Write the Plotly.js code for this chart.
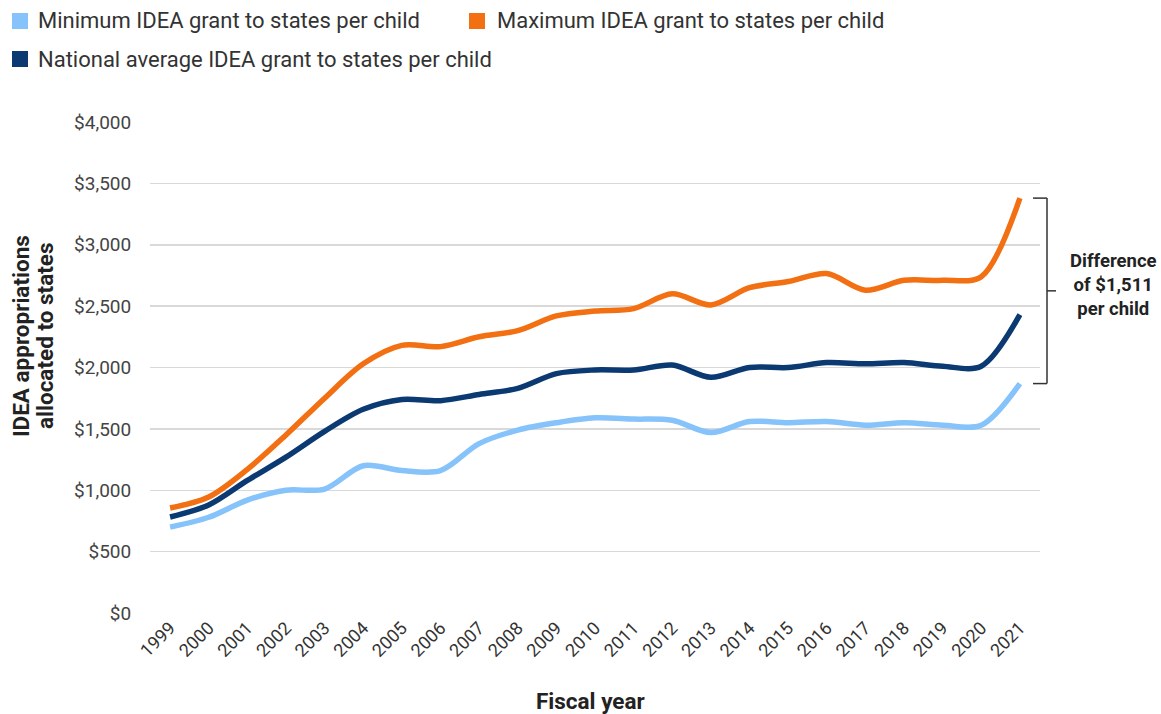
<!DOCTYPE html>
<html>
<head>
<meta charset="utf-8">
<script src="https://cdn.plot.ly/plotly-3.0.1.min.js"></script>
<style>
  html, body { margin: 0; padding: 0; background: #fff; }
  #chart { width: 1161px; height: 714px; }
</style>
</head>
<body>
<div id="chart"></div>
<script>
// IDEA grants to states per child, fiscal years 1999-2021
const years = [1999, 2000, 2001, 2002, 2003, 2004, 2005, 2006, 2007, 2008, 2009, 2010,
               2011, 2012, 2013, 2014, 2015, 2016, 2017, 2018, 2019, 2020, 2021];

const minimumGrant = [700, 780, 920, 1000, 1010, 1200, 1160, 1160, 1380, 1490, 1550, 1590,
                      1580, 1570, 1470, 1560, 1550, 1560, 1530, 1550, 1530, 1530, 1869];

const maximumGrant = [855, 945, 1170, 1450, 1750, 2030, 2180, 2170, 2250, 2300, 2420, 2460,
                      2480, 2600, 2510, 2650, 2700, 2765, 2630, 2710, 2710, 2740, 3380];

const averageGrant = [782, 880, 1080, 1270, 1480, 1660, 1740, 1730, 1780, 1830, 1950, 1980,
                      1980, 2020, 1920, 2000, 2000, 2040, 2030, 2040, 2010, 2010, 2430];

const seriesNames = [
  'Minimum IDEA grant to states per child',
  'Maximum IDEA grant to states per child',
  'National average IDEA grant to states per child'
];
const seriesColors = ['#86C3FA', '#F26F12', '#0B3A72'];

const yTicks = [0, 500, 1000, 1500, 2000, 2500, 3000, 3500, 4000];

// plot-area geometry in pixels, used to place legend and note items
const W = 1161, H = 714;
const M = { l: 150, r: 121, t: 122, b: 101 };
const plotW = W - M.l - M.r, plotH = H - M.t - M.b;
const px = x => (x - M.l) / plotW;
const py = y => (H - M.b - y) / plotH;

function lineTrace(y, i) {
  return {
    x: years, y: y, type: 'scatter', mode: 'lines', name: seriesNames[i],
    line: { color: seriesColors[i], width: 5.5, shape: 'spline', smoothing: 0.9 },
    showlegend: false, hoverinfo: 'x+y'
  };
}

const data = [
  lineTrace(minimumGrant, 0),
  lineTrace(averageGrant, 2),
  lineTrace(maximumGrant, 1)
];

const textColor = '#333333';
const darkText = '#222222';
const FONT = 'Roboto, sans-serif';
const shapes = [];
const annotations = [];

// legend: colored squares with labels
const legendItems = [
  { i: 0, sx: 12, tx: 36, cy: 21 },
  { i: 1, sx: 469, tx: 495, cy: 21 },
  { i: 2, sx: 12, tx: 36, cy: 59 }
];
legendItems.forEach(it => {
  shapes.push({
    type: 'rect', xref: 'paper', yref: 'paper',
    x0: px(it.sx), x1: px(it.sx + 16), y0: py(it.cy + 8), y1: py(it.cy - 8),
    fillcolor: seriesColors[it.i], line: { width: 0 }
  });
  annotations.push({
    xref: 'paper', yref: 'paper', x: px(it.tx), y: py(it.cy),
    xanchor: 'left', yanchor: 'middle', showarrow: false,
    text: seriesNames[it.i],
    font: { family: FONT, size: 22, color: textColor }
  });
});

// bracket spanning the 2021 maximum and minimum grants
const last = years.length - 1;
const gapTop = maximumGrant[last];
const gapBottom = minimumGrant[last];
const gapMid = (gapTop + gapBottom) / 2;
const bx = px(1047), bxl = px(1033), bxr = px(1056);
const bracketLine = { color: '#333333', width: 1.5 };
shapes.push(
  { type: 'line', xref: 'paper', yref: 'y', x0: bx, x1: bx, y0: gapBottom, y1: gapTop, line: bracketLine },
  { type: 'line', xref: 'paper', yref: 'y', x0: bxl, x1: bx, y0: gapTop, y1: gapTop, line: bracketLine },
  { type: 'line', xref: 'paper', yref: 'y', x0: bxl, x1: bx, y0: gapBottom, y1: gapBottom, line: bracketLine },
  { type: 'line', xref: 'paper', yref: 'y', x0: bx, x1: bxr, y0: gapMid, y1: gapMid, line: bracketLine }
);
const gap = gapTop - gapBottom;
annotations.push({
  xref: 'paper', yref: 'y', x: px(1113), y: gapMid + 50,
  xanchor: 'center', yanchor: 'middle', showarrow: false, align: 'center',
  text: '<b>Difference<br>of $' + gap.toLocaleString('en-US') + '<br>per child</b>',
  font: { family: FONT, size: 18.5, color: darkText }
});

// y-axis title, two rotated lines
[['IDEA appropriations', 21], ['allocated to states', 45]].forEach(([t, x]) => {
  annotations.push({
    xref: 'paper', yref: 'paper', x: px(x), y: py(336),
    xanchor: 'center', yanchor: 'middle', showarrow: false, textangle: -90,
    text: '<b>' + t + '</b>',
    font: { family: FONT, size: 22.5, color: darkText }
  });
});

// x-axis title
annotations.push({
  xref: 'paper', yref: 'paper', x: px(590), y: py(701),
  xanchor: 'center', yanchor: 'middle', showarrow: false,
  text: '<b>Fiscal year</b>',
  font: { family: FONT, size: 22.5, color: darkText }
});

const layout = {
  width: W, height: H,
  margin: M,
  paper_bgcolor: '#ffffff', plot_bgcolor: '#ffffff',
  font: { family: FONT, color: textColor },
  showlegend: false,
  xaxis: {
    type: 'linear',
    range: [years[0] - 0.52, years[last] + 0.52],
    tickvals: years, ticktext: years.map(String),
    tickangle: -45, showgrid: false, zeroline: false, showline: false,
    ticks: '', tickfont: { size: 18, color: '#333333' },
    fixedrange: true
  },
  yaxis: {
    range: [0, 4000], tickvals: yTicks,
    ticktext: yTicks.map(v => '$' + v.toLocaleString('en-US')),
    showgrid: true, gridcolor: '#D9D9D9', gridwidth: 1.5,
    zeroline: false, showline: false,
    ticks: 'outside', ticklen: 14, tickcolor: 'rgba(0,0,0,0)',
    tickfont: { size: 19, color: '#444444' },
    fixedrange: true
  },
  shapes: shapes,
  annotations: annotations
};

Plotly.newPlot('chart', data, layout, { displayModeBar: false, staticPlot: true });
</script>
</body>
</html>
